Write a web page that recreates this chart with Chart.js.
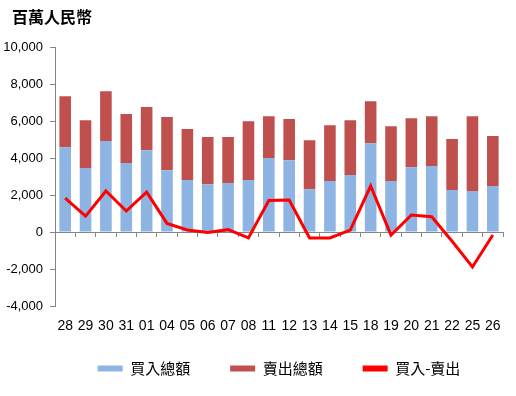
<!DOCTYPE html>
<html>
<head>
<meta charset="utf-8">
<script src="https://cdn.jsdelivr.net/npm/chart.js@4/dist/chart.umd.min.js"></script>
<style>
html,body{margin:0;padding:0;background:#fff;}
#wrap{width:516px;height:396px;}
</style>
</head>
<body>
<div id="wrap"><canvas id="c" width="516" height="396"></canvas></div>
<script>
const categories = ['28','29','30','31','01','04','05','06','07','08','11','12','13','14','15','18','19','20','21','22','25','26'];
const buyTotal  = [4590,3460,4920,3730,4430,3350,2810,2590,2650,2810,4000,3890,2320,2760,3080,4810,2760,3510,3570,2270,2220,2490];
const sellTotal = [2760,2590,2700,2650,2330,2870,2760,2550,2490,3190,2270,2220,2650,3020,2970,2270,2970,2650,2700,2760,4050,2700];
const netFlow   = [1840,860,2220,1140,2160,470,110,-20,130,-320,1710,1730,-320,-320,110,2490,-160,920,830,-500,-1890,-160];
const seriesNames = ['買入總額','賣出總額','買入-賣出'];
const titleText = '百萬人民幣';
const yMin = -4000, yMax = 10000, yStep = 2000;

const AXIS_GRAY = '#868686';
const BLUE = '#8DB4E2', RED = '#C0504D', LINE_RED = '#FF0000';
const noLabelClip = function(){ return undefined; };

new Chart(document.getElementById('c'), {
  type: 'bar',
  data: {
    labels: categories,
    datasets: [
      {type:'bar', label: seriesNames[0], data: buyTotal, backgroundColor: BLUE, stack:'flow', order:1},
      {type:'bar', label: seriesNames[1], data: sellTotal, backgroundColor: RED, stack:'flow', order:1},
      {type:'line', label: seriesNames[2], data: netFlow, borderColor: LINE_RED, backgroundColor: LINE_RED,
       borderWidth:3, pointRadius:0, pointHoverRadius:0, tension:0, fill:false, order:0, stack:'net'}
    ]
  },
  options: {
    responsive:false,
    animation:false,
    devicePixelRatio:1,
    layout:{padding:{left:12, right:13, top:0, bottom:10}},
    datasets:{bar:{categoryPercentage:1, barPercentage:0.57}},
    scales:{
      x:{
        stacked:true, position:'bottom',
        grid:{display:false}, border:{display:false},
        ticks:{color:'#000', font:{family:'Liberation Sans', size:14}, padding:4, maxRotation:0, autoSkip:false},
        afterFit(s){ s.height = 15; s._computeLabelArea = noLabelClip; }
      },
      x2:{
        axis:'x', type:'category', position:{y:0}, offset:true,
        grid:{display:true, offset:true, drawOnChartArea:false, drawTicks:true, tickLength:4, color:AXIS_GRAY},
        border:{display:true, color:AXIS_GRAY, width:1},
        ticks:{display:false},
        afterFit(s){ s.height = 4; }
      },
      y:{
        stacked:true, min:yMin, max:yMax,
        ticks:{stepSize:yStep, color:'#000', font:{family:'Liberation Sans', size:13}, padding:7,
               callback:(v)=>Number(v).toLocaleString('en-US')},
        grid:{display:true, drawOnChartArea:false, drawTicks:true, tickLength:5, color:AXIS_GRAY},
        border:{display:true, color:AXIS_GRAY, width:1},
        afterFit(s){ s.width = 43; s._computeLabelArea = noLabelClip; }
      }
    },
    plugins:{
      title:{display:true, text:titleText, align:'start', color:'#000',
             font:{family:'Noto Sans CJK TC', size:16, weight:'bold'}, padding:{top:7, bottom:21}},
      legend:{
        display:true, position:'bottom', fullSize:false,
        labels:{
          boxWidth:25, boxHeight:6, padding:40, color:'#000',
          font:{family:'Noto Sans CJK TC', size:15},
          sort:(a,b)=>a.datasetIndex-b.datasetIndex,
          generateLabels(chart){
            const items = Chart.defaults.plugins.legend.labels.generateLabels(chart);
            items.forEach(it=>{
              const ds = chart.data.datasets[it.datasetIndex];
              const col = ds.type === 'line' ? ds.borderColor : ds.backgroundColor;
              it.fillStyle = col; it.strokeStyle = col; it.lineWidth = 0;
            });
            return items;
          }
        }
      },
      tooltip:{enabled:false}
    }
  }
});
</script>
</body>
</html>
